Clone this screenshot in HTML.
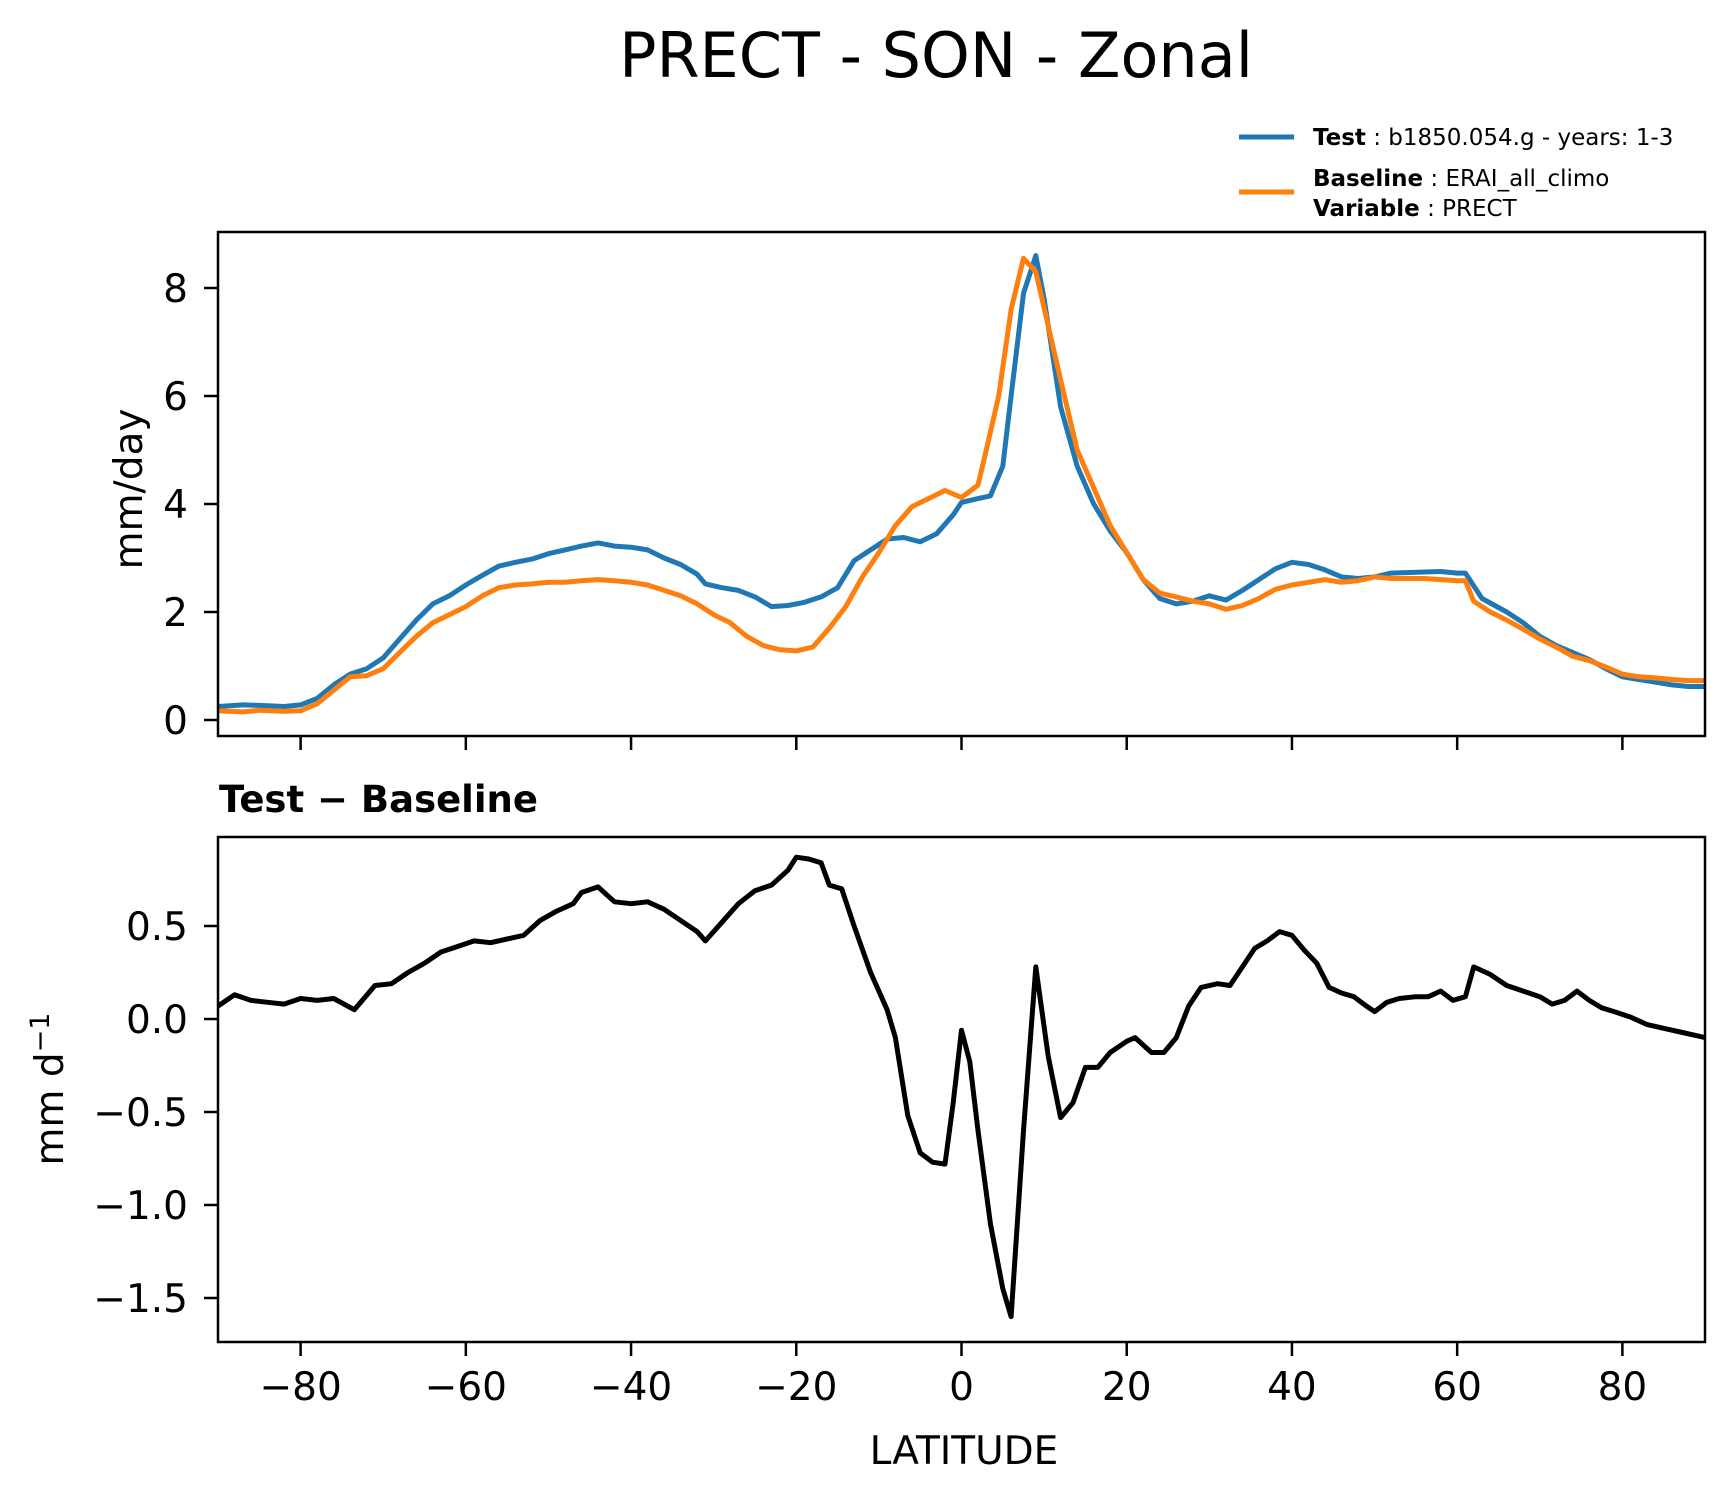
<!DOCTYPE html>
<html><head><meta charset="utf-8"><style>
html,body{margin:0;padding:0;background:#fff;}
svg{display:block;font-family:"DejaVu Sans","Liberation Sans",sans-serif;}
</style></head><body>
<svg id="chart" width="1735" height="1496" viewBox="0 0 1735 1496" xmlns="http://www.w3.org/2000/svg">
<text x="936" y="77" font-size="62" text-anchor="middle">PRECT - SON - Zonal</text>
<g>
<line x1="1239" y1="137" x2="1294" y2="137" stroke="#1f77b4" stroke-width="5"/>
<text x="1313" y="145" font-size="23"><tspan font-weight="bold">Test</tspan> : b1850.054.g - years: 1-3</text>
<line x1="1239" y1="192" x2="1294" y2="192" stroke="#ff7f0e" stroke-width="5"/>
<text x="1313" y="186" font-size="23"><tspan font-weight="bold">Baseline</tspan> : ERAI_all_climo</text>
<text x="1313" y="216" font-size="23"><tspan font-weight="bold">Variable</tspan> : PRECT</text>
</g>
<g id="topPanel"></g>
<g id="botPanel"></g>
<text transform="translate(142,489) rotate(-90)" font-size="39" text-anchor="middle">mm/day</text>
<text transform="translate(63,1089) rotate(-90)" font-size="39" text-anchor="middle">mm d<tspan dy="-14" font-size="27">−1</tspan></text>
<text x="219" y="812" font-size="37" font-weight="bold">Test − Baseline</text>
<text x="964" y="1464" font-size="39" text-anchor="middle">LATITUDE</text>
</svg>
<script>
const testLat=[-90,-87,-85,-82,-80,-78,-76,-74,-72,-70,-68,-66,-64,-62,-60,-58,-56,-54,-52,-50,-48,-46,-44,-42,-40,-38,-36,-34,-32,-31,-29,-27,-25,-23,-21,-19,-17,-15,-13,-11,-9,-7,-5,-3,-1,0,2,3.5,5,6,7.5,9,10,12,14,16,18,20,22,24,26,28,30,32,34,36,38,40,42,44,46,48,50,52,54,56,58,60,61,63,66,68,70,72,74,76,78,80,82,84,86,88,90];
const testVals=[0.25,0.28,0.27,0.25,0.28,0.4,0.65,0.85,0.95,1.15,1.5,1.85,2.15,2.3,2.5,2.68,2.85,2.92,2.98,3.08,3.15,3.22,3.28,3.22,3.2,3.15,3.0,2.88,2.7,2.52,2.45,2.4,2.28,2.1,2.12,2.18,2.28,2.45,2.95,3.15,3.35,3.38,3.3,3.45,3.8,4.03,4.1,4.15,4.7,6.0,7.9,8.6,7.8,5.8,4.7,4.0,3.5,3.1,2.6,2.25,2.15,2.2,2.3,2.22,2.4,2.6,2.8,2.92,2.88,2.78,2.65,2.62,2.65,2.72,2.73,2.74,2.75,2.72,2.72,2.25,2.0,1.8,1.55,1.38,1.25,1.12,0.95,0.8,0.75,0.7,0.65,0.62,0.62];
const baseLat=[-90,-87,-85,-82,-80,-78,-76,-74,-72,-70,-68,-66,-64,-62,-60,-58,-56,-54,-52,-50,-48,-46,-44,-42,-40,-38,-36,-34,-32,-30,-28,-26,-24,-22,-20,-18,-16,-14,-12,-10,-8,-6,-4,-2,0,2,3,4.5,6,7.5,9,10.5,12,14,16,18,20,22,24,26,28,30,32,34,36,38,40,42,44,46,48,50,52,54,56,58,60,61,62,64,66,68,70,72,74,76,78,80,82,84,86,88,90];
const baseVals=[0.17,0.15,0.18,0.16,0.17,0.3,0.55,0.8,0.82,0.95,1.25,1.55,1.8,1.95,2.1,2.3,2.45,2.5,2.52,2.55,2.55,2.58,2.6,2.58,2.55,2.5,2.4,2.3,2.15,1.95,1.8,1.55,1.38,1.3,1.28,1.35,1.7,2.1,2.65,3.1,3.6,3.95,4.1,4.25,4.12,4.35,5.0,6.0,7.6,8.55,8.3,7.3,6.3,5.0,4.3,3.6,3.1,2.6,2.35,2.28,2.2,2.15,2.05,2.12,2.25,2.42,2.5,2.55,2.6,2.55,2.58,2.65,2.62,2.62,2.62,2.6,2.58,2.58,2.2,2.0,1.85,1.68,1.5,1.35,1.18,1.1,0.98,0.85,0.8,0.78,0.75,0.73,0.73];
const diffLat=[-90,-88,-86,-84,-82,-80,-78,-76,-73.5,-71,-69,-67,-65,-63,-61,-59,-57,-55,-53,-51,-49,-47,-46,-44,-42,-40,-38,-36,-34,-32,-31,-29,-27,-25,-23,-21,-20,-18.5,-17,-16,-14.5,-13,-11,-9,-8,-6.5,-5,-3.5,-2,-1,0,1,2,3.5,5,6,7.5,9,10.5,12,13.5,15,16.5,18,20,21,23,24.5,26,27.5,29,31,32.5,34,35.5,37,38.5,40,41.5,43,44.5,46,47.5,49,50,51.5,53,55,56.5,58,59.5,61,62,64,66,68,70,71.5,73,74.5,76,77.5,79,81,83,85,87,89,90];
const diffVals=[0.07,0.13,0.1,0.09,0.08,0.11,0.1,0.11,0.05,0.18,0.19,0.25,0.3,0.36,0.39,0.42,0.41,0.43,0.45,0.53,0.58,0.62,0.68,0.71,0.63,0.62,0.63,0.59,0.53,0.47,0.42,0.52,0.62,0.69,0.72,0.8,0.87,0.86,0.84,0.72,0.7,0.5,0.25,0.05,-0.1,-0.52,-0.72,-0.77,-0.78,-0.45,-0.06,-0.23,-0.6,-1.1,-1.45,-1.6,-0.6,0.28,-0.2,-0.53,-0.45,-0.26,-0.26,-0.18,-0.12,-0.1,-0.18,-0.18,-0.1,0.07,0.17,0.19,0.18,0.28,0.38,0.42,0.47,0.45,0.37,0.3,0.17,0.14,0.12,0.07,0.04,0.09,0.11,0.12,0.12,0.15,0.1,0.12,0.28,0.24,0.18,0.15,0.12,0.08,0.1,0.15,0.1,0.06,0.04,0.01,-0.03,-0.05,-0.07,-0.09,-0.1];
const xTicks=[-80,-60,-40,-20,0,20,40,60,80];
const xTickLabels=["−80","−60","−40","−20","0","20","40","60","80"];
const topTicks=[0,2,4,6,8];
const topTickLabels=["0","2","4","6","8"];
const botTicks=[0.5,0,-0.5,-1,-1.5];
const botTickLabels=["0.5","0.0","−0.5","−1.0","−1.5"];

const NS="http://www.w3.org/2000/svg";
const L=218,R=1705;
const xs=v=>L+(v+90)/180*(R-L);
const topY=v=>720-v*54;
const botY=v=>1019-v*186;
function mk(p,tag,a){const e=document.createElementNS(NS,tag);for(const k in a)e.setAttribute(k,a[k]);p.appendChild(e);return e;}
function panel(g,T,B,yf,ticks,labels,showX,name){
  for(let i=0;i<ticks.length;i++){
    const y=yf(ticks[i]);
    const t=mk(g,'line',{x1:L-14,x2:L,y1:y,y2:y,stroke:'#000','stroke-width':2.5});
    
    
    const tx=mk(g,'text',{x:188,y:y+14,'font-size':39,'text-anchor':'end'});
    tx.textContent=labels[i];
    
    
  }
  for(let i=0;i<xTicks.length;i++){
    const x=xs(xTicks[i]);
    const t=mk(g,'line',{x1:x,x2:x,y1:B,y2:B+14,stroke:'#000','stroke-width':2.5});
    
    
    if(showX){
      const tx=mk(g,'text',{x:x,y:1400,'font-size':39,'text-anchor':'middle'});
      tx.textContent=xTickLabels[i];
      
      
    }
  }
}
function drawLine(g,lat,vals,yf,color,name){
  const pts=lat.map((la,i)=>xs(la).toFixed(1)+','+yf(vals[i]).toFixed(1)).join(' ');
  const p=mk(g,'polyline',{points:pts,fill:'none',stroke:color,'stroke-width':5,'stroke-linejoin':'round'});
  
  
}
const svgEl=document.getElementById('chart');
const topG=document.getElementById('topPanel'),botG=document.getElementById('botPanel');
const cp=mk(svgEl,'clipPath',{id:'c1'});mk(cp,'rect',{x:L,y:232,width:R-L,height:504});
const cp2=mk(svgEl,'clipPath',{id:'c2'});mk(cp2,'rect',{x:L,y:837,width:R-L,height:505});
panel(topG,232,736,topY,topTicks,topTickLabels,false,'top');
panel(botG,837,1342,botY,botTicks,botTickLabels,true,'bottom');
const tg=mk(topG,'g',{'clip-path':'url(#c1)'});
drawLine(tg,testLat,testVals,topY,'#1f77b4','test-line');
drawLine(tg,baseLat,baseVals,topY,'#ff7f0e','baseline-line');
const bg=mk(botG,'g',{'clip-path':'url(#c2)'});
drawLine(bg,diffLat,diffVals,botY,'#000','diff-line');
const f1=mk(topG,'rect',{x:L,y:232,width:R-L,height:504,fill:'none',stroke:'#000','stroke-width':2.5});


const f2=mk(botG,'rect',{x:L,y:837,width:R-L,height:505,fill:'none',stroke:'#000','stroke-width':2.5});


</script>
</body></html>
